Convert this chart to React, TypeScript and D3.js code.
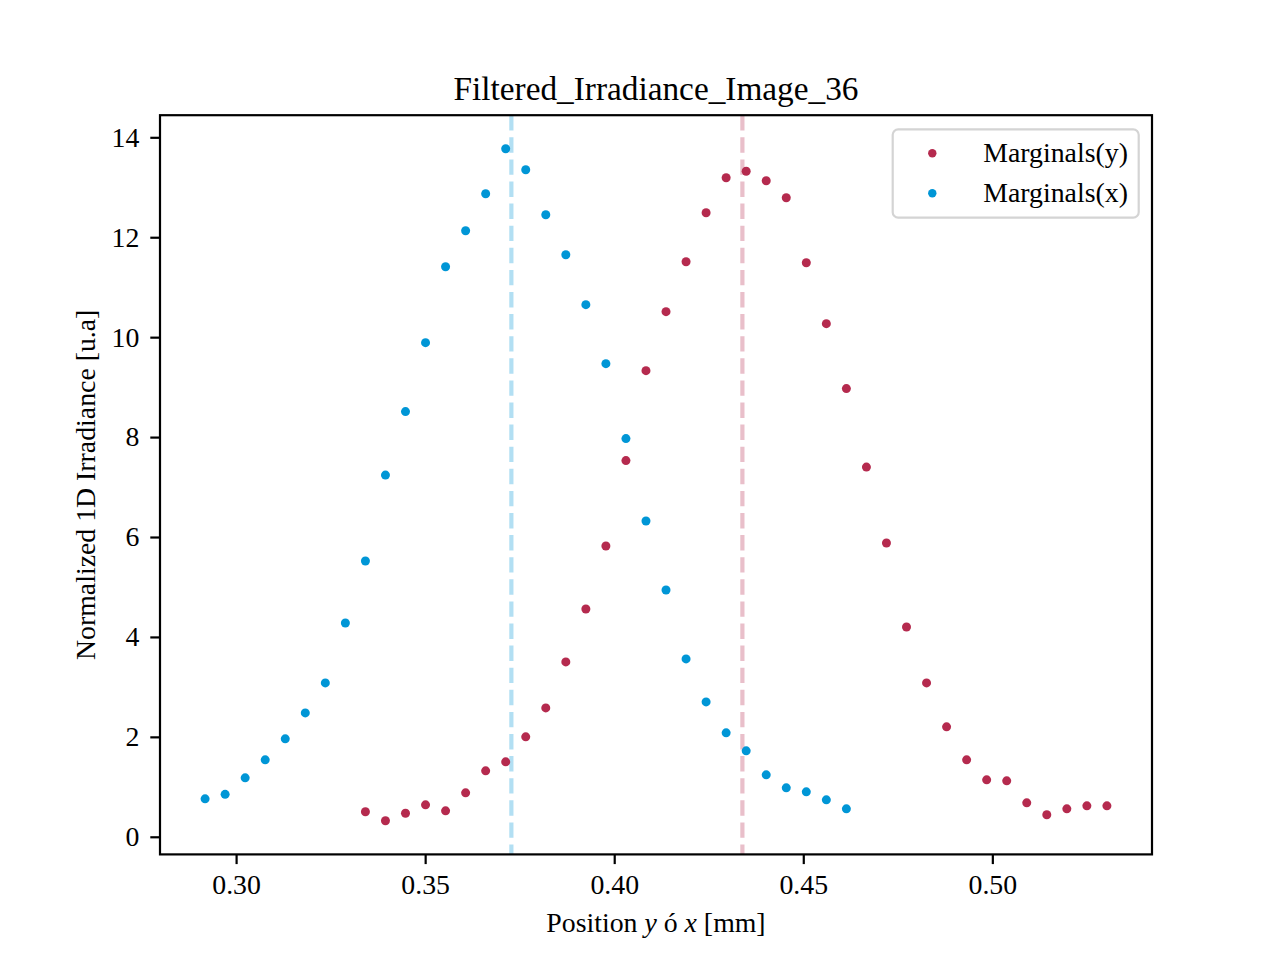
import { useEffect, useRef } from "react"
import * as d3 from "d3"

// shared pixel grid of positions [mm]
const positions = [
  0.2918, 0.2971, 0.3024, 0.3077, 0.3130, 0.3183, 0.3236, 0.3289, 0.3342, 0.3395,
  0.3448, 0.3501, 0.3554, 0.3607, 0.3660, 0.3713, 0.3766, 0.3819, 0.3872, 0.3925,
  0.3978, 0.4031, 0.4084, 0.4137, 0.4190, 0.4243, 0.4296, 0.4349, 0.4402, 0.4455,
  0.4508, 0.4561, 0.4614, 0.4667, 0.4720, 0.4773, 0.4826, 0.4879, 0.4932, 0.4985,
  0.5038, 0.5091, 0.5144, 0.5197, 0.5250, 0.5303,
]

// Marginals(x) lives on positions[0..32]
const marginalsX = [
  0.76, 0.85, 1.18, 1.54, 1.96, 2.48, 3.08, 4.28, 5.52, 7.24,
  8.51, 9.89, 11.41, 12.13, 12.87, 13.77, 13.35, 12.45, 11.65, 10.65,
  9.47, 7.97, 6.32, 4.94, 3.56, 2.70, 2.08, 1.72, 1.24, 0.98,
  0.90, 0.74, 0.56,
]

// Marginals(y) lives on positions[8..45]
const marginalsY = [
  0.50, 0.32, 0.47, 0.64, 0.52, 0.88, 1.32, 1.50, 2.00, 2.58,
  3.50, 4.56, 5.82, 7.53, 9.33, 10.51, 11.51, 12.49, 13.19, 13.32,
  13.13, 12.79, 11.49, 10.27, 8.97, 7.40, 5.88, 4.20, 3.08, 2.20,
  1.54, 1.14, 1.12, 0.68, 0.44, 0.56, 0.62, 0.62,
]

const centroidX = 0.3728
const centroidY = 0.4339

const xTicks = [0.30, 0.35, 0.40, 0.45, 0.50]
const yTicks = [0, 2, 4, 6, 8, 10, 12, 14]

const colorY = "#b52a4e"
const colorX = "#0096d6"

type Pt = { x: number; y: number }

const width = 1280
const height = 960
const fontFamily = "'Liberation Serif', 'Times New Roman', 'DejaVu Serif', serif"

export default function App() {
  const svgRef = useRef<SVGSVGElement>(null)

  useEffect(() => {
    if (!svgRef.current) return
    const svg = d3.select(svgRef.current)
    svg.selectAll("*").remove()

    // matplotlib default axes box for a 6.4x4.8in figure at 200 dpi
    const margin = { top: 115.2, right: 128, bottom: 105.6, left: 160 }
    const innerWidth = width - margin.left - margin.right
    const innerHeight = height - margin.top - margin.bottom

    const ptsX: Pt[] = marginalsX.map((v, i) => ({ x: positions.slice(0, 33)[i], y: v }))
    const ptsY: Pt[] = marginalsY.map((v, i) => ({ x: positions.slice(8)[i], y: v }))
    const all = [...ptsX, ...ptsY]

    // 5% autoscale margins, like matplotlib
    const [x0, x1] = d3.extent(all, d => d.x) as [number, number]
    const [y0, y1] = d3.extent(all, d => d.y) as [number, number]
    const xPad = (x1 - x0) * 0.05
    const yPad = (y1 - y0) * 0.05

    const xScale = d3.scaleLinear().domain([x0 - xPad, x1 + xPad]).range([0, innerWidth])
    const yScale = d3.scaleLinear().domain([y0 - yPad, y1 + yPad]).range([innerHeight, 0])

    const g = svg.append("g").attr("transform", `translate(${margin.left},${margin.top})`)

    // vertical dashed centroid lines
    const vlines = [
      { x: centroidY, color: colorY },
      { x: centroidX, color: colorX },
    ]
    g.selectAll(".vline")
      .data(vlines)
      .enter()
      .append("line")
      .attr("x1", d => xScale(d.x))
      .attr("x2", d => xScale(d.x))
      .attr("y1", 0)
      .attr("y2", innerHeight)
      .attr("stroke", d => d.color)
      .attr("stroke-opacity", 0.3)
      .attr("stroke-width", 4.2)
      .attr("stroke-dasharray", "15.4,6.7")

    // scatter points
    const series = [
      { pts: ptsY, color: colorY },
      { pts: ptsX, color: colorX },
    ]
    series.forEach(s => {
      g.append("g")
        .selectAll("circle")
        .data(s.pts)
        .enter()
        .append("circle")
        .attr("cx", d => xScale(d.x))
        .attr("cy", d => yScale(d.y))
        .attr("r", 4.5)
        .attr("fill", s.color)
    })

    // axes
    const xAxis = g.append("g")
      .attr("transform", `translate(0,${innerHeight})`)
      .call(d3.axisBottom(xScale).tickValues(xTicks).tickFormat(d3.format(".2f")).tickSize(9.7).tickPadding(10))
    const yAxis = g.append("g")
      .call(d3.axisLeft(yScale).tickValues(yTicks).tickFormat(d3.format("d")).tickSize(9.7).tickPadding(11))

    ;[xAxis, yAxis].forEach(ax => {
      ax.select(".domain").remove()
      ax.selectAll("line").attr("stroke", "#000").attr("stroke-width", 2.2)
      ax.selectAll("text")
        .attr("fill", "#000")
        .style("font-family", fontFamily)
        .style("font-size", "27.8px")
    })

    // spines
    g.append("rect")
      .attr("x", 0)
      .attr("y", 0)
      .attr("width", innerWidth)
      .attr("height", innerHeight)
      .attr("fill", "none")
      .attr("stroke", "#000")
      .attr("stroke-width", 2.2)

    // title
    svg.append("text")
      .attr("x", margin.left + innerWidth / 2)
      .attr("y", 100)
      .attr("text-anchor", "middle")
      .style("font-family", fontFamily)
      .style("font-size", "33.3px")
      .text("Filtered_Irradiance_Image_36")

    // x label with math italics
    const xLabel = svg.append("text")
      .attr("x", margin.left + innerWidth / 2)
      .attr("y", 932)
      .attr("text-anchor", "middle")
      .style("font-family", fontFamily)
      .style("font-size", "27.8px")
    xLabel.append("tspan").text("Position ")
    xLabel.append("tspan").style("font-style", "italic").text("y")
    xLabel.append("tspan").text(" ó ")
    xLabel.append("tspan").style("font-style", "italic").text("x")
    xLabel.append("tspan").text(" [mm]")

    // y label
    svg.append("text")
      .attr("transform", `translate(95,${margin.top + innerHeight / 2}) rotate(-90)`)
      .attr("text-anchor", "middle")
      .style("font-family", fontFamily)
      .style("font-size", "27.8px")
      .text("Normalized 1D Irradiance [u.a]")

    // legend
    const legend = svg.append("g").attr("transform", "translate(892.7,129.3)")
    legend.append("rect")
      .attr("width", 246)
      .attr("height", 88.4)
      .attr("rx", 5.5)
      .attr("fill", "#fff")
      .attr("fill-opacity", 0.8)
      .attr("stroke", "#d4d4d4")
      .attr("stroke-width", 2.2)

    const items = [
      { label: "Marginals(y)", color: colorY },
      { label: "Marginals(x)", color: colorX },
    ]
    items.forEach((item, i) => {
      const row = legend.append("g").attr("transform", `translate(0,${24 + i * 40})`)
      row.append("circle")
        .attr("cx", 39.6)
        .attr("cy", 0)
        .attr("r", 4.2)
        .attr("fill", item.color)
      row.append("text")
        .attr("x", 90.6)
        .attr("y", 0)
        .attr("dy", "0.33em")
        .style("font-family", fontFamily)
        .style("font-size", "27.8px")
        .text(item.label)
    })
  }, [])

  return (
    <div style={{ position: "absolute", left: 0, top: 0, width, height, background: "#fff" }}>
      <svg ref={svgRef} width={width} height={height} style={{ display: "block" }} />
    </div>
  )
}
